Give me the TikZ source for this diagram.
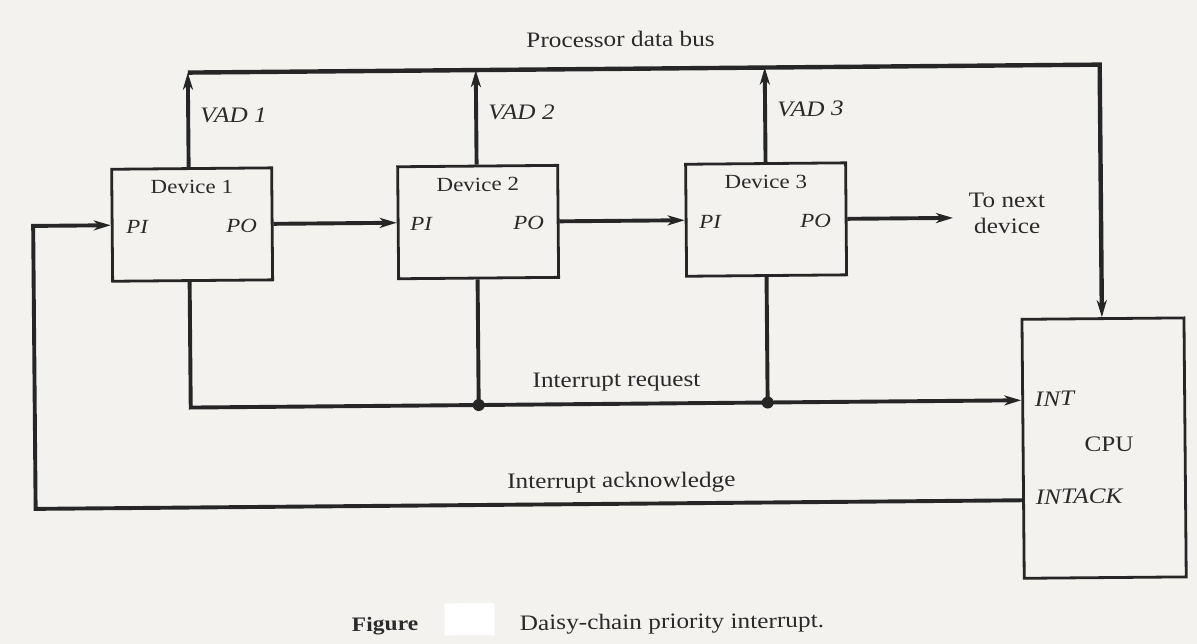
\documentclass[tikz,border=0pt]{standalone}
\usepackage{fontspec}
\setmainfont{Liberation Serif}[FakeStretch=1.15]
\usetikzlibrary{arrows.meta,calc}
\definecolor{paper}{HTML}{F3F2EF}
\definecolor{ink}{HTML}{262626}
\definecolor{txt}{HTML}{2A2A2A}
\begin{document}
\begin{tikzpicture}[x=1pt,y=-1pt,
  conn/.style={draw=ink,line width=3.9pt},
  busline/.style={draw=ink,line width=4.4pt},
  tip/.style={-{Stealth[length=17pt,width=10pt,inset=5pt]}},
  devbox/.style={draw=ink,line width=2.8pt,rectangle,minimum width=160pt,minimum height=112pt,inner sep=0pt},
  cpubox/.style={draw=ink,line width=2.8pt,rectangle,minimum width=162pt,minimum height=259pt,inner sep=0pt},
  lbl/.style={text=txt,inner sep=0pt,font=\fontsize{22}{26}\selectfont},
  port/.style={text=txt,inner sep=0pt,font=\fontsize{20}{24}\selectfont\itshape},
  devlbl/.style={text=txt,inner sep=0pt,font=\fontsize{20}{24}\selectfont},
  ilbl/.style={text=txt,inner sep=0pt,font=\fontsize{22}{26}\selectfont\itshape},
  junction/.style={circle,fill=ink,inner sep=0pt,minimum size=12pt}]
\useasboundingbox (0,0) rectangle (1197,644);
\fill[paper] (0,0) rectangle (1197,644);
\begin{scope}[rotate around={0.5:(600,322)},every node/.append style={transform shape}]
  % boxes
  \node[devbox] (d1) at (193,221) {};
  \node[devbox] (d2) at (479,221) {};
  \node[devbox] (d3) at (767,221) {};
  \node[cpubox] (cpu) at (1103,452.5) {};
  % box texts
  \node[devlbl,anchor=base] (d1t) at (193,190) {Device 1};
  \node[devlbl,anchor=base] (d2t) at (479,190) {Device 2};
  \node[devlbl,anchor=base] (d3t) at (767,190) {Device 3};
  \node[port,anchor=base west] (pi1) at (127,229) {PI};
  \node[port,anchor=base east] (po1) at (258,229) {PO};
  \node[port,anchor=base west] (pi2) at (411,229) {PI};
  \node[port,anchor=base east] (po2) at (545,229) {PO};
  \node[port,anchor=base west] (pi3) at (700,229) {PI};
  \node[port,anchor=base east] (po3) at (832,229) {PO};
  \node[ilbl,anchor=base west] (int) at (1034,410) {INT};
  \node[lbl,anchor=base] (cput) at (1108,456) {CPU};
  \node[ilbl,anchor=base west] (intack) at (1034,508) {INTACK};
  % bus
  \coordinate (b1) at (190,69);
  \coordinate (b2) at (478,69);
  \coordinate (b3) at (767,69);
  \coordinate (bend) at (1102,69);
  \draw[busline,tip] (b1) -- (bend) -- (cpu.north -| bend);
  \draw[conn,tip] (d1.north -| b1) -- (b1);
  \draw[conn,tip] (d2.north -| b2) -- (b2);
  \draw[conn,tip] (d3.north -| b3) -- (b3);
  \node[lbl,anchor=base] (bus) at (623,47) {Processor data bus};
  \node[ilbl,anchor=base west] (vad1) at (202,119) {VAD 1};
  \node[ilbl,anchor=base west] (vad2) at (490,119) {VAD 2};
  \node[ilbl,anchor=base west] (vad3) at (779,118) {VAD 3};
  % daisy chain
  \draw[conn,tip] (d1.east) -- (d2.west);
  \draw[conn,tip] (d2.east) -- (d3.west);
  \coordinate (nx) at (954,221);
  \draw[conn,tip] (d3.east) -- (nx);
  \node[lbl,anchor=base] (nt1) at (1008,211) {To next};
  \node[lbl,anchor=base] (nt2) at (1008,237) {device};
  % interrupt request
  \coordinate (r1) at (190,404);
  \node[junction] (j2) at (478,404) {};
  \node[junction] (j3) at (767,404) {};
  \draw[conn] (d1.south -| r1) -- (r1) -- (j2.center) -- (j3.center);
  \draw[conn] (d2.south -| j2) -- (j2.center);
  \draw[conn] (d3.south -| j3) -- (j3.center);
  \draw[conn,tip] (j3.center) -- (cpu.west |- r1);
  \node[lbl,anchor=base] (irq) at (616,387) {Interrupt request};
  % interrupt acknowledge
  \coordinate (a1) at (34,504);
  \draw[conn,tip] (cpu.west |- a1) -- (a1) |- (d1.west);
  \node[lbl,anchor=base] (ack) at (620,488) {Interrupt acknowledge};
  % caption
  \fill[white] (442,602) rectangle (492,634);
  \node[text=txt,inner sep=0pt,anchor=base west,font=\fontsize{20.5}{24}\selectfont\bfseries] (fig) at (349,629) {Figure};
  \node[lbl,anchor=base west] (cap) at (517,629.5) {Daisy-chain priority interrupt.};
\end{scope}
\end{tikzpicture}
\end{document}
